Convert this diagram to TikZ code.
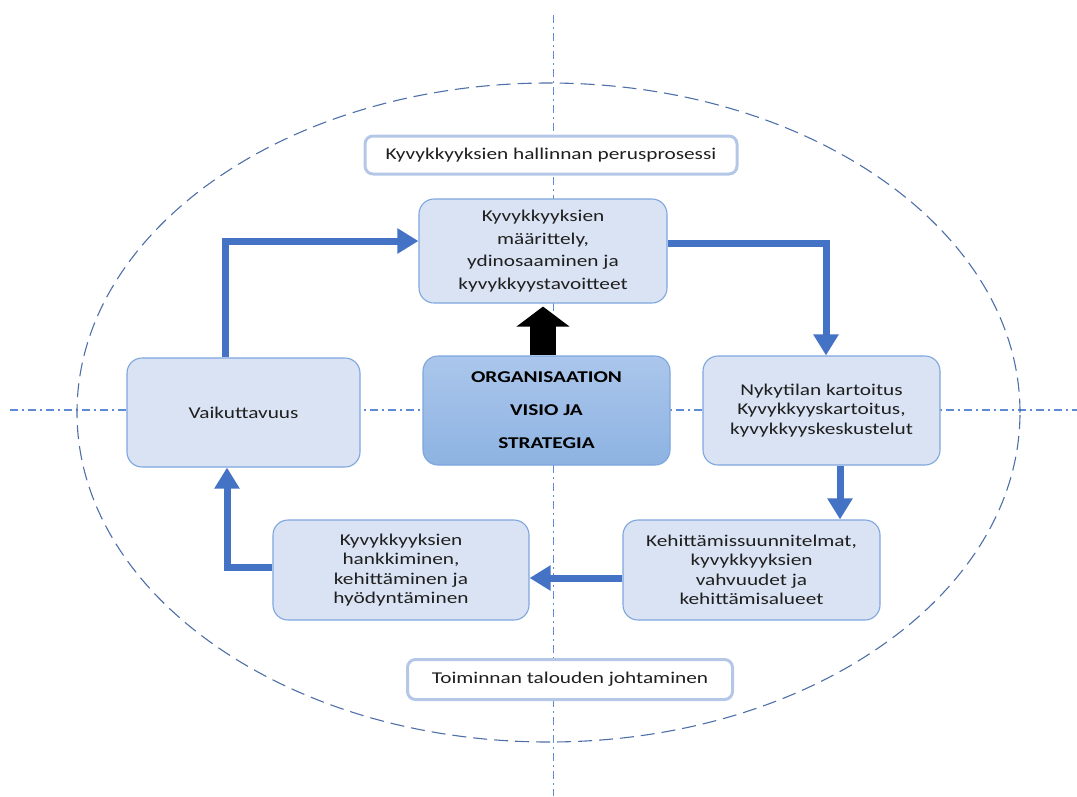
\documentclass[tikz,border=0pt]{standalone}
\usepackage{fontspec}
\setmainfont{Carlito}[FakeStretch=1.29]
\usetikzlibrary{arrows.meta,shapes.geometric}
\definecolor{boxfill}{HTML}{DAE3F3}
\definecolor{boxline}{HTML}{7EA6DE}
\definecolor{labline}{HTML}{B4C7E7}
\definecolor{flow}{HTML}{4472C4}
\definecolor{axisc}{HTML}{5F8AD6}
\definecolor{ringc}{HTML}{4F6FA8}
\definecolor{txt}{HTML}{1F1F1F}
\definecolor{ctop}{HTML}{ABC6EB}
\definecolor{cbot}{HTML}{8DB3E2}
\tikzset{
  procbox/.style={draw=boxline, line width=1.1pt, fill=boxfill, rounded corners=15pt,
    inner sep=0pt, align=center, text=txt, font=\fontsize{16.5}{19.5}\selectfont},
  labbox/.style={draw=labline, line width=3pt, fill=white, rounded corners=8pt,
    inner sep=0pt, align=center, text=txt, font=\fontsize{16.5}{19.5}\selectfont},
  flowarrow/.style={draw=flow, line width=7pt, -{Triangle[length=21pt,width=24pt]}},
  axisline/.style={draw=axisc, line width=1.3pt, dash pattern=on 8pt off 4pt on 2pt off 4pt},
}
\begin{document}
\begin{tikzpicture}[x=1pt,y=-1pt]
\useasboundingbox (0,0) rectangle (1077,796);
% axes
\draw[axisline] (553.5,15) -- (553.5,796);
\draw[axisline] (10,410) -- (1077,410);
% ring
\node[ellipse, draw=ringc, line width=1.1pt, dash pattern=on 14pt off 7pt,
  minimum width=943pt, minimum height=659pt, inner sep=0pt] (ring) at (548.5,412.5) {};
% labels
\node[labbox, minimum width=372pt, minimum height=38pt] (lab1) at (551,155) {Kyvykkyyksien hallinnan perusprosessi};
\node[labbox, minimum width=325pt, minimum height=40pt] (lab2) at (570,679.5) {Toiminnan talouden johtaminen};
% boxes
\node[procbox, minimum width=248pt, minimum height=104pt,
  font=\fontsize{16.5}{22.5}\selectfont] (top) at (543,251)
  {Kyvykkyyksien\\määrittely,\\ydinosaaminen ja\\kyvykkyystavoitteet};
\node[procbox, minimum width=247pt, minimum height=109pt, top color=ctop, bottom color=cbot,
  draw=boxline, font=\fontsize{16.5}{33}\selectfont\bfseries, text=black] (center) at (546.5,410.5)
  {ORGANISAATION\\VISIO JA\\STRATEGIA};
\node[procbox, minimum width=237pt, minimum height=109pt] (right) at (821.5,410.5)
  {Nykytilan kartoitus\\Kyvykkyyskartoitus,\\kyvykkyyskeskustelut};
\node[procbox, minimum width=257pt, minimum height=100pt] (kehit) at (751.5,570)
  {Kehittämissuunnitelmat,\\kyvykkyyksien\\vahvuudet ja\\kehittämisalueet};
\node[procbox, minimum width=256pt, minimum height=100pt] (hank) at (401,570)
  {Kyvykkyyksien\\hankkiminen,\\kehittäminen ja\\hyödyntäminen};
\node[procbox, minimum width=233pt, minimum height=109pt] (vaik) at (243.5,412.5)
  {Vaikuttavuus};
% black arrow
\draw[line width=26pt, black, -{Triangle[length=20pt,width=52pt]}, shorten >=3pt]
  (top.south |- center.north) -- (top.south);
% flow arrows
\draw[flowarrow] ([xshift=-18.5pt]vaik.north) |- ([yshift=10pt]top.west);
\draw[flowarrow] ([yshift=8pt]top.east) -| ([xshift=4.5pt]right.north);
\draw[flowarrow] ([xshift=18.5pt]right.south) -- ([xshift=18.5pt]right.south |- kehit.north);
\draw[flowarrow] ([yshift=-8pt]kehit.west) -- ([yshift=-8pt]hank.east);
\draw[flowarrow] ([yshift=3pt]hank.west) -| ([xshift=-16.5pt]vaik.south);
\end{tikzpicture}
\end{document}
